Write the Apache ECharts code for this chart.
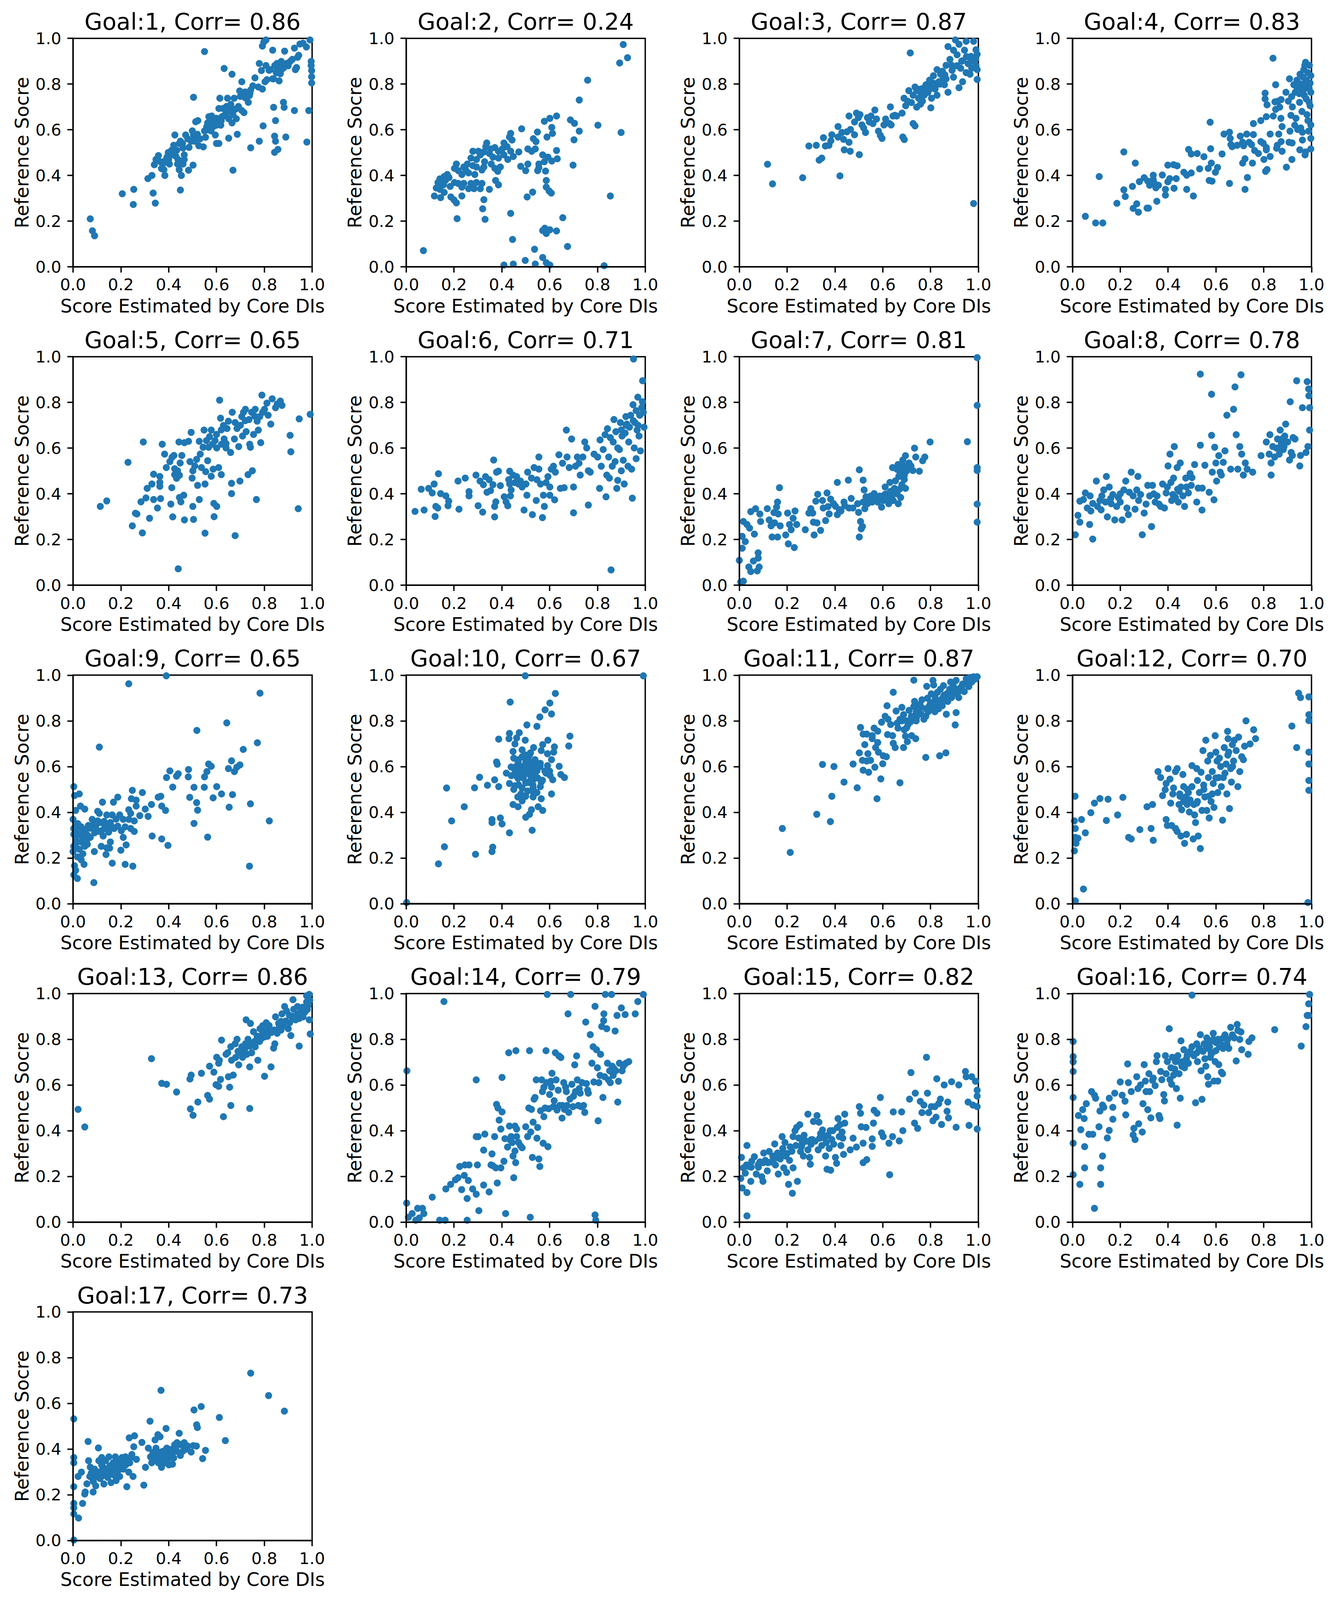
<!DOCTYPE html>
<html><head><meta charset="utf-8">
<script src="https://cdn.jsdelivr.net/npm/echarts@6/dist/echarts.min.js"></script>
<style>html,body{margin:0;padding:0;background:#fff;overflow:hidden}#c{width:100vw;height:100vh}</style>
</head><body><div id="c"></div>
<script>
const goals = [1,2,3,4,5,6,7,8,9,10,11,12,13,14,15,16,17];
const corrs = ['0.86','0.24','0.87','0.83','0.65','0.71','0.81','0.78','0.65','0.67','0.87','0.70','0.86','0.79','0.82','0.74','0.73'];
const xName = 'Score Estimated by Core DIs';
const yName = 'Reference Socre';

const g1 = [[0.072,0.21],[0.081,0.158],[0.09,0.136],[0.206,0.32],[0.254,0.339],[0.252,0.273],[0.335,0.323],[0.344,0.279],[0.313,0.386],[0.33,0.40],[0.449,0.336],[0.669,0.423],[0.502,0.445],[0.483,0.423],[0.34,0.447],[0.347,0.47],[0.357,0.487],[0.366,0.46],[0.375,0.45],[0.38,0.425],[0.384,0.40],[0.393,0.48],[0.398,0.50],[0.403,0.45],[0.39,0.47],[0.37,0.43],[0.412,0.51],[0.421,0.532],[0.426,0.577],[0.43,0.484],[0.439,0.47],[0.434,0.51],[0.444,0.54],[0.449,0.55],[0.458,0.54],[0.437,0.45],[0.444,0.425],[0.453,0.40],[0.465,0.49],[0.465,0.47],[0.46,0.45],[0.471,0.577],[0.485,0.523],[0.494,0.55],[0.499,0.595],[0.504,0.577],[0.508,0.55],[0.504,0.742],[0.513,0.635],[0.522,0.64],[0.526,0.53],[0.517,0.56],[0.531,0.56],[0.545,0.525],[0.55,0.595],[0.55,0.942],[0.554,0.567],[0.559,0.613],[0.563,0.63],[0.568,0.657],[0.572,0.62],[0.577,0.595],[0.582,0.648],[0.586,0.613],[0.591,0.63],[0.595,0.577],[0.6,0.54],[0.61,0.54],[0.605,0.63],[0.61,0.693],[0.614,0.738],[0.618,0.62],[0.623,0.657],[0.627,0.693],[0.632,0.868],[0.637,0.666],[0.642,0.702],[0.646,0.738],[0.651,0.648],[0.651,0.563],[0.655,0.684],[0.66,0.711],[0.665,0.63],[0.665,0.843],[0.669,0.666],[0.674,0.738],[0.683,0.648],[0.687,0.58],[0.692,0.702],[0.697,0.77],[0.7,0.746],[0.706,0.81],[0.706,0.684],[0.715,0.675],[0.72,0.765],[0.724,0.738],[0.733,0.72],[0.738,0.75],[0.743,0.774],[0.743,0.521],[0.752,0.792],[0.761,0.827],[0.775,0.787],[0.779,0.89],[0.779,0.55],[0.788,0.859],[0.792,0.778],[0.795,0.617],[0.792,0.966],[0.798,0.984],[0.807,0.993],[0.803,0.81],[0.807,0.881],[0.811,0.819],[0.825,0.863],[0.835,0.948],[0.839,0.698],[0.839,0.823],[0.843,0.501],[0.843,0.572],[0.847,0.64],[0.847,0.55],[0.853,0.89],[0.855,0.863],[0.857,0.514],[0.862,0.814],[0.867,0.845],[0.871,0.899],[0.875,0.872],[0.88,0.72],[0.883,0.698],[0.885,0.944],[0.89,0.568],[0.894,0.89],[0.908,0.899],[0.917,0.908],[0.926,0.957],[0.926,0.684],[0.93,0.863],[0.935,0.872],[0.939,0.917],[0.944,0.926],[0.949,0.975],[0.962,0.979],[0.976,0.962],[0.978,0.546],[0.986,0.684],[0.991,0.993],[0.996,0.899],[0.998,0.859],[0.998,0.832],[0.998,0.805],[0.996,0.881],[0.844,0.881],[0.857,0.872],[0.835,0.823],[0.82,0.86],[0.86,0.85],[0.87,0.86],[0.58,0.66],[0.6,0.65],[0.64,0.69],[0.66,0.7],[0.62,0.64],[0.38,0.46],[0.4,0.47],[0.42,0.49],[0.46,0.52],[0.48,0.56],[0.52,0.58],[0.56,0.6],[0.6,0.62],[0.63,0.66],[0.65,0.68],[0.68,0.69],[0.72,0.74],[0.74,0.76],[0.85,0.85],[0.88,0.87],[0.9,0.88]];

const g2 = [[0.908,0.973],[0.926,0.915],[0.893,0.892],[0.759,0.817],[0.724,0.73],[0.629,0.66],[0.601,0.65],[0.578,0.637],[0.687,0.643],[0.704,0.628],[0.802,0.62],[0.724,0.594],[0.899,0.588],[0.702,0.556],[0.483,0.604],[0.437,0.584],[0.549,0.59],[0.609,0.61],[0.612,0.584],[0.589,0.568],[0.532,0.561],[0.543,0.548],[0.443,0.555],[0.432,0.568],[0.409,0.542],[0.422,0.526],[0.437,0.506],[0.402,0.516],[0.386,0.506],[0.371,0.522],[0.353,0.516],[0.337,0.542],[0.333,0.526],[0.348,0.496],[0.325,0.503],[0.31,0.49],[0.302,0.506],[0.279,0.506],[0.271,0.476],[0.294,0.47],[0.328,0.46],[0.363,0.48],[0.386,0.476],[0.409,0.49],[0.425,0.47],[0.448,0.483],[0.471,0.503],[0.509,0.516],[0.525,0.506],[0.54,0.516],[0.571,0.49],[0.593,0.48],[0.609,0.463],[0.629,0.509],[0.632,0.473],[0.578,0.46],[0.555,0.45],[0.509,0.45],[0.479,0.44],[0.5,0.421],[0.555,0.434],[0.583,0.419],[0.55,0.421],[0.698,0.445],[0.256,0.45],[0.241,0.437],[0.279,0.443],[0.294,0.437],[0.21,0.45],[0.202,0.431],[0.218,0.421],[0.233,0.404],[0.249,0.424],[0.261,0.411],[0.287,0.404],[0.317,0.424],[0.325,0.437],[0.356,0.45],[0.371,0.431],[0.383,0.418],[0.394,0.437],[0.172,0.404],[0.159,0.395],[0.179,0.391],[0.141,0.385],[0.133,0.369],[0.149,0.365],[0.164,0.378],[0.202,0.369],[0.218,0.365],[0.241,0.365],[0.233,0.349],[0.271,0.365],[0.294,0.369],[0.317,0.365],[0.31,0.342],[0.284,0.342],[0.261,0.342],[0.348,0.339],[0.374,0.378],[0.386,0.359],[0.126,0.345],[0.141,0.339],[0.156,0.359],[0.184,0.352],[0.159,0.326],[0.118,0.31],[0.144,0.303],[0.187,0.306],[0.2,0.293],[0.21,0.28],[0.233,0.31],[0.325,0.294],[0.32,0.254],[0.33,0.208],[0.213,0.211],[0.437,0.234],[0.506,0.306],[0.529,0.327],[0.586,0.378],[0.586,0.349],[0.598,0.332],[0.607,0.323],[0.655,0.215],[0.854,0.31],[0.445,0.12],[0.571,0.159],[0.586,0.146],[0.601,0.162],[0.629,0.157],[0.58,0.169],[0.675,0.089],[0.537,0.077],[0.571,0.041],[0.498,0.028],[0.54,0.012],[0.586,0.018],[0.601,0.008],[0.409,0.008],[0.448,0.012],[0.828,0.005],[0.072,0.071]];

const g3 = [[0.118,0.449],[0.139,0.363],[0.265,0.39],[0.421,0.398],[0.502,0.491],[0.334,0.467],[0.345,0.476],[0.291,0.529],[0.322,0.532],[0.352,0.565],[0.36,0.529],[0.375,0.532],[0.383,0.552],[0.387,0.578],[0.413,0.568],[0.413,0.614],[0.429,0.588],[0.436,0.558],[0.439,0.512],[0.464,0.506],[0.459,0.545],[0.465,0.601],[0.45,0.591],[0.459,0.66],[0.482,0.634],[0.482,0.578],[0.49,0.673],[0.498,0.653],[0.505,0.666],[0.513,0.621],[0.52,0.608],[0.528,0.588],[0.536,0.653],[0.544,0.634],[0.551,0.66],[0.559,0.627],[0.567,0.686],[0.574,0.647],[0.582,0.594],[0.59,0.575],[0.597,0.562],[0.605,0.621],[0.612,0.647],[0.628,0.627],[0.635,0.621],[0.632,0.7],[0.643,0.66],[0.651,0.663],[0.658,0.66],[0.681,0.673],[0.684,0.568],[0.69,0.557],[0.689,0.738],[0.696,0.705],[0.704,0.725],[0.709,0.771],[0.715,0.936],[0.72,0.719],[0.727,0.627],[0.735,0.617],[0.727,0.751],[0.735,0.787],[0.742,0.699],[0.75,0.738],[0.758,0.778],[0.766,0.725],[0.773,0.751],[0.781,0.797],[0.789,0.764],[0.796,0.817],[0.801,0.696],[0.804,0.738],[0.812,0.836],[0.819,0.778],[0.827,0.863],[0.835,0.81],[0.842,0.843],[0.85,0.817],[0.858,0.797],[0.865,0.823],[0.873,0.764],[0.873,0.964],[0.881,0.908],[0.888,0.882],[0.896,0.948],[0.896,0.83],[0.904,0.993],[0.911,0.928],[0.919,0.784],[0.919,0.974],[0.926,0.869],[0.934,0.902],[0.934,0.81],[0.942,0.948],[0.949,0.85],[0.957,0.889],[0.965,0.843],[0.969,0.921],[0.972,0.869],[0.98,0.277],[0.988,0.908],[0.995,0.863],[0.98,0.987],[0.949,0.987],[0.773,0.784],[0.812,0.804],[0.742,0.771],[0.758,0.712],[0.827,0.751],[0.85,0.856],[0.865,0.882],[0.78,0.76],[0.76,0.75],[0.79,0.79],[0.84,0.8],[0.995,0.93],[0.99,0.95],[0.995,0.82],[0.76,0.77],[0.8,0.78],[0.83,0.8],[0.86,0.84],[0.89,0.86],[0.91,0.88],[0.93,0.9],[0.95,0.92],[0.97,0.9],[0.99,0.88]];

const g4 = [[0.054,0.221],[0.097,0.192],[0.127,0.192],[0.112,0.395],[0.186,0.278],[0.215,0.503],[0.215,0.337],[0.221,0.308],[0.251,0.352],[0.263,0.454],[0.254,0.256],[0.269,0.276],[0.276,0.239],[0.28,0.373],[0.3,0.39],[0.312,0.257],[0.318,0.257],[0.315,0.375],[0.323,0.357],[0.338,0.401],[0.338,0.382],[0.343,0.365],[0.349,0.346],[0.353,0.287],[0.36,0.357],[0.376,0.402],[0.389,0.339],[0.389,0.314],[0.399,0.445],[0.399,0.372],[0.407,0.386],[0.423,0.447],[0.425,0.344],[0.434,0.386],[0.438,0.442],[0.466,0.414],[0.478,0.401],[0.478,0.339],[0.486,0.514],[0.497,0.494],[0.497,0.411],[0.506,0.31],[0.522,0.496],[0.532,0.429],[0.55,0.482],[0.568,0.431],[0.572,0.378],[0.584,0.375],[0.578,0.517],[0.576,0.633],[0.581,0.454],[0.598,0.414],[0.607,0.435],[0.626,0.494],[0.634,0.581],[0.657,0.589],[0.657,0.365],[0.66,0.562],[0.663,0.535],[0.668,0.526],[0.689,0.532],[0.702,0.572],[0.712,0.545],[0.716,0.53],[0.712,0.454],[0.722,0.473],[0.722,0.339],[0.729,0.581],[0.732,0.391],[0.739,0.545],[0.749,0.535],[0.753,0.454],[0.757,0.627],[0.757,0.579],[0.762,0.509],[0.778,0.496],[0.788,0.64],[0.788,0.548],[0.798,0.541],[0.801,0.47],[0.806,0.76],[0.806,0.735],[0.811,0.657],[0.808,0.418],[0.814,0.426],[0.811,0.522],[0.811,0.512],[0.814,0.709],[0.827,0.581],[0.827,0.483],[0.839,0.913],[0.84,0.66],[0.847,0.722],[0.85,0.797],[0.85,0.689],[0.854,0.519],[0.857,0.532],[0.86,0.725],[0.863,0.581],[0.867,0.699],[0.872,0.65],[0.873,0.732],[0.877,0.614],[0.877,0.506],[0.873,0.548],[0.893,0.764],[0.895,0.436],[0.903,0.725],[0.906,0.545],[0.908,0.823],[0.91,0.594],[0.914,0.663],[0.917,0.745],[0.918,0.47],[0.919,0.542],[0.926,0.797],[0.932,0.764],[0.935,0.65],[0.939,0.817],[0.942,0.601],[0.945,0.784],[0.949,0.758],[0.951,0.512],[0.952,0.843],[0.955,0.608],[0.959,0.797],[0.962,0.589],[0.962,0.555],[0.965,0.83],[0.968,0.863],[0.972,0.882],[0.973,0.49],[0.975,0.895],[0.975,0.503],[0.978,0.735],[0.978,0.817],[0.981,0.79],[0.981,0.666],[0.985,0.64],[0.985,0.85],[0.988,0.594],[0.991,0.882],[0.994,0.705],[0.997,0.562],[0.997,0.516],[0.997,0.764],[0.997,0.621],[0.997,0.837],[0.994,0.804],[0.94,0.78],[0.955,0.8],[0.965,0.77],[0.92,0.7],[0.95,0.72],[0.97,0.75],[0.99,0.78],[0.96,0.68],[0.93,0.62],[0.99,0.72]];

const g5 = [[0.114,0.345],[0.141,0.369],[0.23,0.538],[0.294,0.627],[0.248,0.26],[0.29,0.229],[0.261,0.315],[0.267,0.312],[0.284,0.365],[0.305,0.382],[0.31,0.424],[0.32,0.293],[0.33,0.443],[0.337,0.486],[0.337,0.375],[0.353,0.338],[0.363,0.476],[0.363,0.45],[0.366,0.379],[0.363,0.433],[0.373,0.617],[0.383,0.574],[0.39,0.515],[0.405,0.541],[0.409,0.355],[0.413,0.427],[0.417,0.299],[0.414,0.56],[0.422,0.568],[0.425,0.51],[0.425,0.484],[0.433,0.468],[0.437,0.501],[0.443,0.627],[0.445,0.384],[0.445,0.481],[0.448,0.535],[0.455,0.568],[0.451,0.365],[0.463,0.394],[0.466,0.624],[0.466,0.286],[0.483,0.63],[0.489,0.541],[0.494,0.669],[0.498,0.469],[0.501,0.345],[0.501,0.501],[0.504,0.288],[0.509,0.522],[0.517,0.551],[0.521,0.437],[0.528,0.375],[0.528,0.63],[0.532,0.574],[0.537,0.515],[0.544,0.604],[0.548,0.679],[0.552,0.443],[0.552,0.228],[0.555,0.497],[0.558,0.633],[0.563,0.545],[0.567,0.604],[0.571,0.65],[0.578,0.477],[0.578,0.679],[0.583,0.617],[0.586,0.508],[0.589,0.358],[0.59,0.3],[0.594,0.633],[0.601,0.345],[0.601,0.601],[0.609,0.515],[0.613,0.81],[0.617,0.731],[0.62,0.484],[0.621,0.617],[0.629,0.699],[0.632,0.64],[0.64,0.601],[0.644,0.686],[0.65,0.718],[0.659,0.581],[0.663,0.401],[0.663,0.446],[0.666,0.757],[0.675,0.64],[0.678,0.712],[0.678,0.217],[0.686,0.686],[0.693,0.607],[0.698,0.456],[0.706,0.738],[0.709,0.653],[0.713,0.757],[0.721,0.77],[0.724,0.672],[0.732,0.484],[0.736,0.725],[0.739,0.617],[0.742,0.604],[0.747,0.757],[0.75,0.501],[0.755,0.66],[0.762,0.77],[0.767,0.375],[0.77,0.718],[0.775,0.679],[0.781,0.738],[0.785,0.624],[0.79,0.832],[0.793,0.757],[0.801,0.77],[0.811,0.797],[0.816,0.744],[0.827,0.705],[0.833,0.816],[0.847,0.777],[0.854,0.793],[0.867,0.806],[0.874,0.787],[0.908,0.656],[0.911,0.584],[0.942,0.335],[0.946,0.728],[0.992,0.748],[0.44,0.072],[0.6,0.66],[0.62,0.68],[0.7,0.7],[0.72,0.72],[0.76,0.74],[0.64,0.62]];

const g6 = [[0.037,0.323],[0.075,0.329],[0.063,0.42],[0.094,0.424],[0.109,0.404],[0.117,0.443],[0.121,0.301],[0.124,0.345],[0.132,0.338],[0.135,0.488],[0.144,0.401],[0.166,0.391],[0.178,0.368],[0.175,0.348],[0.217,0.456],[0.221,0.333],[0.247,0.469],[0.263,0.41],[0.263,0.391],[0.292,0.482],[0.301,0.348],[0.309,0.456],[0.32,0.32],[0.323,0.44],[0.332,0.475],[0.338,0.407],[0.347,0.462],[0.353,0.414],[0.363,0.44],[0.366,0.548],[0.37,0.299],[0.37,0.345],[0.375,0.365],[0.378,0.495],[0.386,0.499],[0.394,0.436],[0.41,0.387],[0.418,0.365],[0.425,0.348],[0.429,0.462],[0.433,0.499],[0.433,0.443],[0.436,0.391],[0.439,0.417],[0.447,0.482],[0.455,0.449],[0.462,0.475],[0.47,0.443],[0.478,0.456],[0.485,0.43],[0.493,0.329],[0.501,0.443],[0.505,0.394],[0.508,0.495],[0.524,0.469],[0.528,0.309],[0.535,0.515],[0.544,0.371],[0.547,0.462],[0.555,0.561],[0.555,0.508],[0.562,0.443],[0.57,0.296],[0.574,0.394],[0.578,0.345],[0.585,0.449],[0.593,0.475],[0.601,0.43],[0.601,0.394],[0.607,0.508],[0.616,0.521],[0.621,0.374],[0.624,0.495],[0.639,0.571],[0.645,0.424],[0.654,0.534],[0.661,0.427],[0.67,0.679],[0.673,0.561],[0.682,0.515],[0.692,0.64],[0.7,0.43],[0.7,0.317],[0.708,0.521],[0.716,0.561],[0.723,0.534],[0.728,0.482],[0.739,0.561],[0.747,0.627],[0.755,0.601],[0.762,0.351],[0.762,0.501],[0.77,0.495],[0.786,0.574],[0.801,0.561],[0.809,0.424],[0.811,0.636],[0.816,0.521],[0.824,0.594],[0.832,0.659],[0.836,0.387],[0.839,0.482],[0.842,0.685],[0.847,0.561],[0.85,0.469],[0.854,0.646],[0.857,0.067],[0.862,0.521],[0.866,0.627],[0.869,0.725],[0.874,0.541],[0.877,0.672],[0.881,0.424],[0.885,0.459],[0.885,0.601],[0.892,0.594],[0.896,0.712],[0.9,0.501],[0.903,0.653],[0.908,0.547],[0.912,0.443],[0.916,0.666],[0.919,0.738],[0.923,0.705],[0.928,0.521],[0.931,0.627],[0.934,0.692],[0.939,0.744],[0.943,0.508],[0.946,0.381],[0.949,0.79],[0.954,0.601],[0.957,0.712],[0.962,0.764],[0.962,0.554],[0.966,0.679],[0.969,0.823],[0.974,0.653],[0.977,0.744],[0.98,0.588],[0.985,0.777],[0.988,0.803],[0.989,0.895],[0.951,0.99],[0.992,0.757],[0.995,0.692],[0.9,0.68],[0.92,0.7],[0.95,0.72],[0.97,0.7]];

const g7 = [[0.006,0.014],[0.017,0.018],[0,0.109],[0.012,0.162],[0.025,0.191],[0.012,0.214],[0.017,0.279],[0.032,0.266],[0.043,0.25],[0.04,0.08],[0.048,0.06],[0.059,0.106],[0.075,0.063],[0.083,0.08],[0.079,0.142],[0.079,0.119],[0.063,0.224],[0.048,0.322],[0.068,0.335],[0.086,0.312],[0.089,0.279],[0.117,0.335],[0.125,0.286],[0.133,0.26],[0.137,0.211],[0.145,0.318],[0.148,0.273],[0.156,0.342],[0.16,0.364],[0.16,0.211],[0.163,0.312],[0.168,0.427],[0.171,0.26],[0.194,0.22],[0.202,0.316],[0.205,0.181],[0.21,0.266],[0.217,0.243],[0.225,0.293],[0.23,0.165],[0.233,0.325],[0.24,0.266],[0.276,0.243],[0.291,0.316],[0.299,0.335],[0.307,0.316],[0.313,0.22],[0.31,0.276],[0.32,0.368],[0.325,0.273],[0.328,0.398],[0.34,0.24],[0.348,0.371],[0.351,0.338],[0.361,0.283],[0.367,0.404],[0.371,0.344],[0.376,0.312],[0.382,0.377],[0.394,0.357],[0.402,0.346],[0.41,0.45],[0.41,0.309],[0.418,0.331],[0.425,0.325],[0.438,0.364],[0.441,0.348],[0.456,0.46],[0.459,0.338],[0.468,0.38],[0.475,0.338],[0.495,0.357],[0.499,0.319],[0.502,0.505],[0.502,0.211],[0.507,0.279],[0.51,0.247],[0.515,0.257],[0.518,0.46],[0.518,0.364],[0.522,0.417],[0.525,0.335],[0.53,0.387],[0.536,0.357],[0.541,0.371],[0.549,0.39],[0.556,0.364],[0.564,0.401],[0.571,0.38],[0.579,0.364],[0.587,0.39],[0.595,0.342],[0.602,0.371],[0.61,0.43],[0.61,0.398],[0.618,0.38],[0.625,0.357],[0.63,0.45],[0.633,0.411],[0.638,0.391],[0.641,0.515],[0.644,0.371],[0.649,0.424],[0.653,0.457],[0.656,0.404],[0.659,0.508],[0.664,0.528],[0.665,0.357],[0.667,0.476],[0.672,0.489],[0.675,0.384],[0.68,0.502],[0.684,0.548],[0.687,0.522],[0.69,0.463],[0.695,0.567],[0.695,0.424],[0.703,0.508],[0.71,0.535],[0.718,0.522],[0.726,0.502],[0.733,0.6],[0.738,0.561],[0.753,0.499],[0.767,0.545],[0.776,0.561],[0.798,0.627],[0.954,0.628],[0.995,0.787],[0.995,0.515],[0.995,0.502],[0.995,0.355],[0.995,0.276],[0.995,0.996],[0.66,0.4],[0.67,0.42],[0.68,0.44],[0.69,0.48],[0.7,0.5],[0.62,0.4],[0.6,0.39]];

const g8 = [[0.012,0.221],[0.085,0.202],[0.023,0.306],[0.031,0.276],[0.072,0.266],[0.031,0.368],[0.046,0.375],[0.054,0.404],[0.062,0.338],[0.074,0.391],[0.077,0.325],[0.085,0.358],[0.1,0.456],[0.105,0.345],[0.115,0.371],[0.123,0.391],[0.131,0.417],[0.138,0.364],[0.142,0.476],[0.146,0.299],[0.154,0.43],[0.162,0.357],[0.169,0.397],[0.177,0.286],[0.185,0.345],[0.192,0.384],[0.2,0.364],[0.208,0.286],[0.215,0.417],[0.223,0.456],[0.228,0.338],[0.234,0.309],[0.238,0.407],[0.246,0.495],[0.254,0.391],[0.262,0.333],[0.269,0.417],[0.274,0.476],[0.277,0.371],[0.285,0.397],[0.292,0.221],[0.3,0.316],[0.308,0.355],[0.315,0.437],[0.323,0.391],[0.331,0.257],[0.335,0.437],[0.346,0.364],[0.354,0.391],[0.362,0.355],[0.369,0.345],[0.377,0.443],[0.385,0.338],[0.392,0.404],[0.397,0.43],[0.4,0.522],[0.408,0.574],[0.412,0.45],[0.415,0.371],[0.42,0.397],[0.423,0.469],[0.426,0.607],[0.431,0.384],[0.438,0.515],[0.443,0.364],[0.446,0.411],[0.451,0.535],[0.454,0.43],[0.462,0.391],[0.469,0.345],[0.474,0.469],[0.477,0.43],[0.485,0.404],[0.492,0.489],[0.497,0.437],[0.5,0.471],[0.511,0.528],[0.52,0.364],[0.526,0.425],[0.535,0.613],[0.535,0.924],[0.542,0.329],[0.543,0.425],[0.554,0.525],[0.572,0.407],[0.582,0.836],[0.582,0.656],[0.585,0.495],[0.592,0.374],[0.595,0.604],[0.6,0.535],[0.603,0.456],[0.612,0.567],[0.618,0.495],[0.623,0.482],[0.631,0.538],[0.638,0.588],[0.646,0.744],[0.662,0.508],[0.674,0.77],[0.68,0.868],[0.685,0.659],[0.692,0.508],[0.7,0.607],[0.705,0.921],[0.708,0.574],[0.715,0.482],[0.723,0.535],[0.731,0.508],[0.754,0.495],[0.789,0.567],[0.811,0.627],[0.823,0.574],[0.826,0.659],[0.831,0.482],[0.831,0.535],[0.838,0.607],[0.846,0.561],[0.854,0.6],[0.858,0.64],[0.865,0.574],[0.869,0.679],[0.874,0.62],[0.877,0.64],[0.882,0.594],[0.885,0.607],[0.888,0.653],[0.892,0.705],[0.9,0.627],[0.908,0.548],[0.911,0.803],[0.915,0.581],[0.92,0.568],[0.923,0.646],[0.931,0.64],[0.938,0.895],[0.951,0.522],[0.954,0.568],[0.962,0.777],[0.977,0.581],[0.982,0.891],[0.985,0.607],[0.988,0.859],[0.989,0.829],[0.992,0.777],[0.992,0.679],[0.16,0.38],[0.12,0.33],[0.2,0.4],[0.34,0.4],[0.44,0.42],[0.86,0.6]];

const g9 = [[0.39,0.997],[0.233,0.962],[0.782,0.921],[0.643,0.791],[0.518,0.758],[0.11,0.685],[0.771,0.704],[0.712,0.675],[0.663,0.625],[0.567,0.611],[0.578,0.601],[0.698,0.607],[0.685,0.597],[0.65,0.591],[0.675,0.578],[0.405,0.581],[0.391,0.552],[0.44,0.568],[0.433,0.558],[0.483,0.587],[0.482,0.555],[0.56,0.578],[0.55,0.555],[0.417,0.51],[0.506,0.509],[0.549,0.509],[0.601,0.512],[0.621,0.48],[0.667,0.477],[0.586,0.463],[0.488,0.465],[0.517,0.442],[0.521,0.409],[0.653,0.422],[0.742,0.437],[0.821,0.362],[0.506,0.351],[0.563,0.291],[0.738,0.164],[0.371,0.283],[0.331,0.296],[0.397,0.255],[0.248,0.496],[0.29,0.486],[0.367,0.47],[0.356,0.466],[0.187,0.466],[0.244,0.459],[0.264,0.453],[0.328,0.434],[0.371,0.427],[0.387,0.408],[0.169,0.444],[0.123,0.444],[0.264,0.427],[0.302,0.414],[0.233,0.411],[0.241,0.395],[0.279,0.385],[0.314,0.382],[0.103,0.404],[0.11,0.395],[0.049,0.414],[0.026,0.48],[0.003,0.512],[0.006,0.473],[0.031,0.427],[0.011,0.408],[0.141,0.388],[0.164,0.388],[0.195,0.388],[0.21,0.369],[0.233,0.369],[0.256,0.362],[0.218,0.336],[0.202,0.319],[0.241,0.329],[0.256,0.316],[0.21,0.29],[0.187,0.339],[0.172,0.329],[0.156,0.355],[0.141,0.329],[0.133,0.342],[0.118,0.355],[0.103,0.362],[0.08,0.369],[0.08,0.342],[0.095,0.329],[0.11,0.316],[0.126,0.296],[0.149,0.313],[0.156,0.27],[0.141,0.244],[0.118,0.251],[0.153,0.243],[0.222,0.257],[0.2,0.234],[0.138,0.215],[0.089,0.228],[0.164,0.177],[0.218,0.172],[0.25,0.164],[0.087,0.092],[0.064,0.342],[0.049,0.323],[0.034,0.336],[0.018,0.349],[0.011,0.329],[0.026,0.31],[0.041,0.296],[0.003,0.303],[0.011,0.277],[0.034,0.27],[0.057,0.277],[0.072,0.29],[0.049,0.251],[0.026,0.238],[0.003,0.251],[0.041,0.218],[0.018,0.205],[0.034,0.192],[0.046,0.172],[0.006,0.166],[0.011,0.146],[0.003,0.126],[0.018,0.11],[0,0.369],[0.003,0.329],[0,0.228],[0.06,0.3],[0.09,0.31],[0.12,0.32],[0.02,0.3],[0.03,0.32],[0.05,0.31],[0.07,0.33],[0.04,0.28],[0.06,0.26],[0.01,0.26],[0.02,0.35],[0.1,0.35],[0.13,0.36],[0.16,0.34],[0.18,0.37]];

const g10 = [[0.002,0.005],[0.498,0.997],[0.992,0.997],[0.624,0.92],[0.435,0.882],[0.601,0.878],[0.581,0.848],[0.608,0.83],[0.559,0.817],[0.505,0.782],[0.547,0.776],[0.432,0.745],[0.473,0.748],[0.387,0.72],[0.43,0.722],[0.462,0.725],[0.498,0.715],[0.593,0.715],[0.685,0.733],[0.68,0.69],[0.617,0.663],[0.455,0.699],[0.571,0.696],[0.62,0.686],[0.447,0.666],[0.485,0.673],[0.533,0.683],[0.565,0.67],[0.591,0.656],[0.608,0.63],[0.516,0.65],[0.485,0.643],[0.45,0.637],[0.468,0.62],[0.514,0.624],[0.539,0.63],[0.378,0.62],[0.381,0.61],[0.561,0.614],[0.591,0.604],[0.64,0.601],[0.439,0.598],[0.5,0.591],[0.533,0.598],[0.455,0.584],[0.547,0.581],[0.479,0.575],[0.419,0.571],[0.585,0.571],[0.516,0.565],[0.602,0.561],[0.662,0.552],[0.647,0.565],[0.613,0.542],[0.307,0.553],[0.37,0.542],[0.468,0.548],[0.531,0.542],[0.565,0.532],[0.5,0.529],[0.432,0.526],[0.387,0.512],[0.286,0.507],[0.34,0.518],[0.169,0.506],[0.455,0.516],[0.485,0.506],[0.531,0.506],[0.561,0.512],[0.508,0.493],[0.547,0.486],[0.608,0.48],[0.467,0.467],[0.5,0.47],[0.531,0.467],[0.565,0.459],[0.485,0.45],[0.447,0.434],[0.468,0.424],[0.243,0.424],[0.524,0.411],[0.552,0.424],[0.571,0.408],[0.5,0.378],[0.516,0.391],[0.19,0.362],[0.359,0.368],[0.394,0.375],[0.359,0.355],[0.401,0.349],[0.527,0.321],[0.432,0.31],[0.16,0.249],[0.362,0.247],[0.359,0.228],[0.29,0.216],[0.135,0.174],[0.48,0.6],[0.52,0.61],[0.5,0.62],[0.46,0.56],[0.54,0.56],[0.52,0.54],[0.49,0.55],[0.51,0.58],[0.47,0.52],[0.53,0.58],[0.46,0.6],[0.48,0.58],[0.5,0.57],[0.52,0.6],[0.54,0.62],[0.56,0.6],[0.55,0.55],[0.53,0.52],[0.51,0.53],[0.49,0.6],[0.47,0.63],[0.5,0.65],[0.52,0.66],[0.44,0.56],[0.58,0.58],[0.57,0.54],[0.45,0.5],[0.48,0.48],[0.53,0.49],[0.6,0.58]];

const g11 = [[0.18,0.329],[0.213,0.224],[0.324,0.391],[0.381,0.359],[0.387,0.47],[0.348,0.609],[0.396,0.6],[0.438,0.532],[0.493,0.507],[0.576,0.459],[0.592,0.546],[0.672,0.529],[0.476,0.611],[0.515,0.627],[0.533,0.624],[0.549,0.627],[0.518,0.584],[0.541,0.575],[0.567,0.597],[0.6,0.612],[0.502,0.66],[0.525,0.696],[0.538,0.656],[0.57,0.683],[0.582,0.663],[0.602,0.647],[0.615,0.643],[0.507,0.771],[0.518,0.742],[0.533,0.742],[0.556,0.735],[0.556,0.722],[0.564,0.768],[0.579,0.755],[0.579,0.705],[0.595,0.794],[0.61,0.82],[0.618,0.866],[0.622,0.807],[0.633,0.784],[0.641,0.735],[0.644,0.702],[0.652,0.683],[0.644,0.925],[0.656,0.843],[0.664,0.768],[0.672,0.807],[0.68,0.859],[0.687,0.683],[0.687,0.827],[0.69,0.761],[0.695,0.733],[0.703,0.709],[0.706,0.784],[0.71,0.846],[0.718,0.797],[0.721,0.735],[0.726,0.82],[0.73,0.978],[0.733,0.885],[0.738,0.722],[0.741,0.813],[0.749,0.859],[0.756,0.833],[0.764,0.892],[0.772,0.807],[0.78,0.853],[0.78,0.64],[0.784,0.951],[0.787,0.899],[0.795,0.866],[0.803,0.918],[0.81,0.977],[0.813,0.957],[0.818,0.84],[0.823,0.892],[0.829,0.925],[0.834,0.853],[0.838,0.647],[0.841,0.938],[0.849,0.866],[0.854,0.954],[0.857,0.912],[0.864,0.66],[0.866,0.829],[0.872,0.885],[0.88,0.938],[0.884,0.97],[0.888,0.902],[0.895,0.954],[0.903,0.782],[0.907,0.836],[0.911,0.925],[0.907,0.977],[0.918,0.902],[0.921,0.941],[0.934,0.961],[0.941,0.928],[0.949,0.984],[0.957,0.958],[0.965,0.99],[0.972,0.97],[0.98,0.993],[0.988,0.984],[0.995,0.993],[0.73,0.863],[0.756,0.872],[0.7,0.8],[0.74,0.84],[0.76,0.86],[0.8,0.88],[0.82,0.9],[0.85,0.9],[0.87,0.92],[0.9,0.94],[0.93,0.95],[0.96,0.97],[0.79,0.84],[0.62,0.74],[0.66,0.79],[0.68,0.8],[0.7,0.77],[0.72,0.82],[0.74,0.8],[0.76,0.83],[0.78,0.82],[0.8,0.85],[0.82,0.87],[0.84,0.88],[0.86,0.89],[0.88,0.91],[0.9,0.92],[0.92,0.93],[0.94,0.96],[0.96,0.95],[0.98,0.98]];

const g12 = [[0.012,0.012],[0.046,0.064],[0.008,0.231],[0.015,0.264],[0.012,0.29],[0.023,0.286],[0.012,0.329],[0.008,0.362],[0.011,0.47],[0.038,0.368],[0.054,0.31],[0.077,0.398],[0.092,0.44],[0.115,0.46],[0.142,0.364],[0.149,0.457],[0.189,0.388],[0.211,0.465],[0.235,0.29],[0.246,0.283],[0.282,0.324],[0.312,0.424],[0.329,0.329],[0.335,0.434],[0.338,0.277],[0.358,0.578],[0.369,0.552],[0.377,0.473],[0.388,0.499],[0.392,0.526],[0.392,0.368],[0.397,0.342],[0.4,0.591],[0.408,0.545],[0.411,0.44],[0.415,0.342],[0.42,0.48],[0.423,0.506],[0.431,0.329],[0.431,0.578],[0.438,0.591],[0.438,0.316],[0.446,0.434],[0.449,0.48],[0.454,0.296],[0.457,0.411],[0.462,0.565],[0.465,0.512],[0.465,0.447],[0.469,0.264],[0.474,0.467],[0.477,0.303],[0.48,0.434],[0.485,0.486],[0.489,0.401],[0.492,0.454],[0.5,0.604],[0.5,0.512],[0.505,0.283],[0.508,0.434],[0.511,0.388],[0.515,0.355],[0.52,0.591],[0.523,0.539],[0.523,0.447],[0.526,0.296],[0.531,0.486],[0.535,0.241],[0.538,0.575],[0.542,0.408],[0.546,0.67],[0.549,0.519],[0.554,0.467],[0.558,0.715],[0.562,0.408],[0.566,0.624],[0.569,0.552],[0.572,0.375],[0.577,0.649],[0.58,0.447],[0.585,0.578],[0.585,0.48],[0.589,0.526],[0.592,0.421],[0.597,0.735],[0.6,0.663],[0.605,0.624],[0.608,0.486],[0.612,0.552],[0.615,0.637],[0.623,0.512],[0.628,0.365],[0.631,0.552],[0.635,0.683],[0.638,0.571],[0.643,0.611],[0.646,0.48],[0.649,0.754],[0.651,0.722],[0.654,0.663],[0.657,0.416],[0.662,0.591],[0.665,0.532],[0.669,0.696],[0.674,0.624],[0.677,0.715],[0.685,0.67],[0.692,0.512],[0.695,0.729],[0.7,0.578],[0.708,0.643],[0.715,0.63],[0.72,0.689],[0.726,0.8],[0.743,0.699],[0.758,0.761],[0.766,0.722],[0.918,0.777],[0.938,0.683],[0.946,0.921],[0.954,0.902],[0.989,0.905],[0.989,0.827],[0.989,0.801],[0.989,0.663],[0.989,0.611],[0.989,0.539],[0.989,0.496],[0.985,0.005],[0.55,0.5],[0.6,0.55],[0.62,0.6],[0.57,0.47],[0.52,0.44],[0.48,0.5],[0.45,0.47],[0.65,0.65],[0.67,0.6]];

const g13 = [[0.021,0.493],[0.049,0.416],[0.328,0.715],[0.371,0.607],[0.391,0.603],[0.433,0.569],[0.489,0.626],[0.494,0.643],[0.537,0.651],[0.491,0.495],[0.502,0.467],[0.522,0.525],[0.563,0.554],[0.571,0.538],[0.629,0.461],[0.66,0.51],[0.739,0.497],[0.589,0.656],[0.571,0.682],[0.598,0.601],[0.609,0.594],[0.617,0.624],[0.65,0.636],[0.655,0.59],[0.67,0.643],[0.601,0.721],[0.609,0.695],[0.621,0.796],[0.612,0.708],[0.64,0.734],[0.647,0.741],[0.663,0.708],[0.66,0.767],[0.678,0.78],[0.686,0.8],[0.69,0.747],[0.693,0.688],[0.706,0.767],[0.709,0.721],[0.716,0.754],[0.721,0.78],[0.724,0.885],[0.727,0.734],[0.732,0.8],[0.739,0.679],[0.742,0.869],[0.747,0.741],[0.755,0.833],[0.759,0.79],[0.762,0.767],[0.77,0.813],[0.773,0.708],[0.782,0.846],[0.785,0.8],[0.793,0.859],[0.801,0.833],[0.801,0.638],[0.808,0.872],[0.813,0.813],[0.819,0.846],[0.828,0.679],[0.831,0.833],[0.839,0.761],[0.844,0.78],[0.847,0.898],[0.854,0.826],[0.862,0.852],[0.87,0.878],[0.874,0.911],[0.885,0.943],[0.893,0.924],[0.9,0.846],[0.905,0.905],[0.906,0.872],[0.911,0.816],[0.916,0.898],[0.92,0.973],[0.923,0.931],[0.931,0.885],[0.939,0.943],[0.946,0.77],[0.946,0.891],[0.954,0.924],[0.962,0.898],[0.969,0.918],[0.977,0.963],[0.977,0.99],[0.985,0.95],[0.988,0.885],[0.992,0.823],[0.988,0.996],[0.75,0.78],[0.79,0.82],[0.82,0.86],[0.86,0.87],[0.88,0.86],[0.72,0.76],[0.68,0.72],[0.84,0.84],[0.7,0.74],[0.74,0.77],[0.78,0.79],[0.8,0.81],[0.83,0.83],[0.87,0.84],[0.89,0.88],[0.92,0.9],[0.94,0.91],[0.96,0.94],[0.98,0.93],[0.99,0.97]];

const g14 = [[0.003,0.662],[0.002,0.083],[0.009,0.021],[0.025,0.037],[0.048,0.06],[0.068,0.06],[0.074,0.037],[0.055,0.018],[0.04,0.008],[0.14,0.008],[0.163,0.008],[0.255,0.008],[0.109,0.109],[0.158,0.965],[0.166,0.145],[0.186,0.165],[0.206,0.185],[0.217,0.194],[0.224,0.243],[0.232,0.142],[0.243,0.204],[0.246,0.25],[0.255,0.103],[0.26,0.182],[0.263,0.25],[0.278,0.145],[0.293,0.122],[0.298,0.25],[0.293,0.374],[0.293,0.622],[0.301,0.374],[0.304,0.05],[0.324,0.315],[0.324,0.162],[0.329,0.385],[0.347,0.132],[0.355,0.25],[0.359,0.298],[0.362,0.247],[0.37,0.374],[0.375,0.237],[0.378,0.515],[0.381,0.171],[0.384,0.499],[0.389,0.446],[0.396,0.237],[0.396,0.407],[0.401,0.633],[0.401,0.482],[0.409,0.266],[0.413,0.365],[0.416,0.037],[0.424,0.328],[0.429,0.741],[0.432,0.42],[0.436,0.358],[0.439,0.374],[0.444,0.348],[0.447,0.289],[0.45,0.194],[0.455,0.42],[0.455,0.311],[0.458,0.26],[0.459,0.75],[0.462,0.407],[0.462,0.374],[0.47,0.348],[0.478,0.334],[0.485,0.325],[0.5,0.417],[0.508,0.374],[0.513,0.499],[0.516,0.75],[0.519,0.021],[0.521,0.394],[0.524,0.493],[0.528,0.283],[0.531,0.437],[0.535,0.538],[0.539,0.545],[0.544,0.622],[0.547,0.367],[0.55,0.414],[0.555,0.276],[0.559,0.243],[0.562,0.487],[0.567,0.622],[0.57,0.571],[0.573,0.345],[0.576,0.59],[0.576,0.461],[0.581,0.499],[0.585,0.75],[0.588,0.61],[0.59,0.996],[0.593,0.33],[0.596,0.496],[0.6,0.558],[0.605,0.616],[0.608,0.59],[0.61,0.651],[0.616,0.505],[0.619,0.531],[0.624,0.741],[0.627,0.622],[0.631,0.49],[0.636,0.577],[0.639,0.727],[0.642,0.51],[0.647,0.72],[0.652,0.455],[0.654,0.51],[0.659,0.61],[0.662,0.493],[0.667,0.59],[0.67,0.571],[0.673,0.51],[0.677,0.911],[0.68,0.48],[0.685,0.538],[0.688,0.996],[0.693,0.603],[0.698,0.505],[0.7,0.551],[0.705,0.688],[0.708,0.571],[0.713,0.727],[0.716,0.622],[0.72,0.51],[0.724,0.584],[0.728,0.564],[0.731,0.505],[0.736,0.61],[0.742,0.51],[0.747,0.48],[0.751,0.875],[0.754,0.606],[0.759,0.577],[0.762,0.564],[0.77,0.82],[0.777,0.695],[0.782,0.767],[0.785,0.613],[0.79,0.944],[0.79,0.031],[0.793,0.008],[0.796,0.754],[0.8,0.675],[0.803,0.443],[0.806,0.61],[0.811,0.642],[0.813,0.734],[0.818,0.856],[0.823,0.545],[0.826,0.881],[0.827,0.911],[0.83,0.636],[0.833,0.996],[0.839,0.846],[0.842,0.695],[0.846,0.622],[0.851,0.662],[0.854,0.61],[0.859,0.996],[0.862,0.682],[0.866,0.642],[0.869,0.672],[0.874,0.836],[0.877,0.662],[0.882,0.904],[0.885,0.525],[0.888,0.616],[0.892,0.695],[0.9,0.937],[0.903,0.662],[0.908,0.682],[0.916,0.908],[0.919,0.695],[0.931,0.702],[0.958,0.911],[0.969,0.965],[0.992,0.996]];

const g15 = [[0.032,0.027],[0.006,0.191],[0.012,0.149],[0.032,0.129],[0.009,0.283],[0.017,0.237],[0.025,0.214],[0.032,0.335],[0.04,0.243],[0.048,0.178],[0.052,0.266],[0.063,0.286],[0.071,0.21],[0.079,0.25],[0.086,0.263],[0.094,0.198],[0.099,0.178],[0.102,0.302],[0.109,0.27],[0.117,0.224],[0.125,0.309],[0.133,0.263],[0.14,0.289],[0.148,0.342],[0.151,0.25],[0.16,0.302],[0.163,0.21],[0.171,0.276],[0.179,0.374],[0.182,0.322],[0.186,0.237],[0.191,0.348],[0.194,0.289],[0.198,0.217],[0.206,0.165],[0.21,0.27],[0.213,0.329],[0.222,0.126],[0.225,0.374],[0.225,0.237],[0.233,0.4],[0.237,0.335],[0.24,0.414],[0.243,0.178],[0.248,0.368],[0.253,0.426],[0.256,0.309],[0.263,0.342],[0.268,0.289],[0.271,0.38],[0.279,0.354],[0.287,0.472],[0.287,0.316],[0.294,0.283],[0.297,0.253],[0.305,0.361],[0.31,0.44],[0.317,0.354],[0.325,0.466],[0.33,0.316],[0.333,0.437],[0.336,0.367],[0.34,0.387],[0.345,0.335],[0.348,0.403],[0.356,0.367],[0.361,0.289],[0.364,0.348],[0.367,0.231],[0.371,0.38],[0.376,0.322],[0.382,0.227],[0.387,0.361],[0.391,0.4],[0.395,0.341],[0.402,0.283],[0.407,0.257],[0.41,0.414],[0.413,0.453],[0.418,0.374],[0.422,0.427],[0.425,0.335],[0.43,0.394],[0.433,0.367],[0.436,0.296],[0.441,0.472],[0.441,0.433],[0.464,0.316],[0.476,0.367],[0.49,0.328],[0.502,0.505],[0.507,0.476],[0.51,0.417],[0.518,0.345],[0.518,0.26],[0.53,0.414],[0.533,0.273],[0.556,0.364],[0.556,0.331],[0.561,0.433],[0.564,0.489],[0.576,0.476],[0.59,0.545],[0.595,0.39],[0.602,0.374],[0.626,0.345],[0.629,0.207],[0.641,0.374],[0.644,0.482],[0.669,0.355],[0.679,0.482],[0.684,0.4],[0.712,0.538],[0.718,0.654],[0.733,0.433],[0.736,0.564],[0.746,0.41],[0.757,0.528],[0.764,0.479],[0.772,0.512],[0.783,0.721],[0.787,0.564],[0.792,0.479],[0.803,0.505],[0.81,0.443],[0.818,0.505],[0.823,0.459],[0.826,0.627],[0.834,0.518],[0.841,0.538],[0.846,0.427],[0.857,0.6],[0.869,0.485],[0.872,0.525],[0.875,0.456],[0.888,0.614],[0.907,0.415],[0.918,0.6],[0.946,0.659],[0.949,0.636],[0.957,0.525],[0.961,0.423],[0.972,0.636],[0.977,0.512],[0.988,0.616],[0.995,0.577],[0.995,0.551],[0.995,0.505],[0.995,0.407],[0.05,0.24],[0.1,0.26],[0.2,0.3],[0.3,0.34],[0.26,0.36],[0.35,0.38],[0.08,0.24],[0.12,0.26],[0.15,0.28],[0.18,0.3],[0.22,0.31],[0.26,0.33],[0.3,0.36],[0.34,0.37],[0.38,0.4],[0.03,0.25]];

const g16 = [[0.003,0.79],[0.003,0.724],[0.003,0.701],[0.003,0.659],[0.003,0.545],[0.003,0.345],[0.003,0.207],[0.031,0.165],[0.092,0.06],[0.118,0.237],[0.118,0.165],[0.126,0.289],[0.051,0.237],[0.051,0.33],[0.035,0.404],[0.025,0.466],[0.043,0.492],[0.049,0.453],[0.058,0.518],[0.069,0.384],[0.085,0.384],[0.08,0.571],[0.092,0.555],[0.097,0.542],[0.111,0.417],[0.115,0.486],[0.126,0.512],[0.131,0.502],[0.146,0.368],[0.154,0.401],[0.154,0.542],[0.169,0.45],[0.169,0.502],[0.177,0.564],[0.2,0.613],[0.208,0.555],[0.22,0.529],[0.223,0.469],[0.231,0.692],[0.234,0.61],[0.246,0.571],[0.254,0.381],[0.257,0.41],[0.262,0.361],[0.269,0.636],[0.274,0.584],[0.277,0.43],[0.285,0.6],[0.292,0.394],[0.295,0.518],[0.3,0.689],[0.305,0.617],[0.308,0.571],[0.315,0.492],[0.32,0.649],[0.323,0.571],[0.328,0.456],[0.335,0.62],[0.338,0.63],[0.346,0.597],[0.351,0.702],[0.354,0.728],[0.362,0.466],[0.366,0.453],[0.369,0.659],[0.374,0.623],[0.382,0.558],[0.385,0.53],[0.389,0.728],[0.392,0.649],[0.397,0.702],[0.405,0.846],[0.408,0.623],[0.412,0.675],[0.415,0.603],[0.418,0.721],[0.423,0.643],[0.428,0.669],[0.431,0.702],[0.435,0.584],[0.438,0.424],[0.441,0.728],[0.446,0.649],[0.451,0.542],[0.454,0.793],[0.458,0.681],[0.462,0.702],[0.466,0.754],[0.469,0.675],[0.477,0.715],[0.485,0.695],[0.492,0.747],[0.5,0.767],[0.5,0.993],[0.508,0.728],[0.515,0.522],[0.52,0.78],[0.523,0.702],[0.531,0.754],[0.535,0.82],[0.538,0.662],[0.542,0.537],[0.546,0.747],[0.551,0.78],[0.554,0.715],[0.558,0.682],[0.562,0.806],[0.566,0.636],[0.569,0.603],[0.574,0.767],[0.577,0.721],[0.582,0.793],[0.585,0.741],[0.589,0.826],[0.592,0.617],[0.597,0.702],[0.6,0.786],[0.608,0.617],[0.612,0.689],[0.615,0.767],[0.623,0.656],[0.628,0.649],[0.631,0.806],[0.638,0.819],[0.646,0.78],[0.654,0.76],[0.662,0.852],[0.669,0.819],[0.677,0.806],[0.685,0.705],[0.689,0.865],[0.692,0.839],[0.7,0.799],[0.705,0.832],[0.708,0.754],[0.735,0.734],[0.738,0.79],[0.751,0.806],[0.846,0.842],[0.957,0.77],[0.977,0.855],[0.982,0.904],[0.988,0.955],[0.988,0.904],[0.992,0.996],[0.56,0.76],[0.58,0.74],[0.6,0.75],[0.52,0.74],[0.62,0.78],[0.45,0.7],[0.48,0.73],[0.53,0.76],[0.57,0.78],[0.59,0.8],[0.61,0.8],[0.63,0.76],[0.65,0.8]];

const g17 = [[0.003,0.532],[0.003,0.363],[0.003,0.34],[0.003,0.235],[0.003,0.162],[0.003,0.143],[0.003,0.116],[0.003,0.002],[0.023,0.098],[0.04,0.162],[0.021,0.28],[0.035,0.299],[0.049,0.203],[0.051,0.212],[0.063,0.433],[0.065,0.349],[0.058,0.248],[0.072,0.321],[0.076,0.294],[0.081,0.271],[0.084,0.212],[0.085,0.258],[0.09,0.312],[0.095,0.239],[0.099,0.294],[0.106,0.405],[0.108,0.349],[0.113,0.271],[0.118,0.303],[0.12,0.363],[0.125,0.321],[0.129,0.247],[0.131,0.294],[0.136,0.349],[0.14,0.312],[0.145,0.276],[0.15,0.366],[0.154,0.326],[0.159,0.253],[0.164,0.29],[0.168,0.34],[0.173,0.285],[0.177,0.366],[0.18,0.262],[0.182,0.326],[0.187,0.303],[0.191,0.349],[0.195,0.28],[0.2,0.331],[0.205,0.363],[0.21,0.312],[0.214,0.344],[0.219,0.366],[0.225,0.235],[0.233,0.299],[0.235,0.449],[0.237,0.34],[0.242,0.363],[0.246,0.376],[0.251,0.28],[0.254,0.41],[0.257,0.458],[0.265,0.355],[0.288,0.429],[0.296,0.242],[0.303,0.32],[0.322,0.522],[0.315,0.404],[0.324,0.366],[0.329,0.34],[0.334,0.385],[0.338,0.358],[0.343,0.44],[0.347,0.404],[0.352,0.366],[0.355,0.463],[0.357,0.34],[0.361,0.385],[0.364,0.454],[0.366,0.352],[0.368,0.657],[0.37,0.32],[0.375,0.39],[0.38,0.366],[0.384,0.34],[0.389,0.49],[0.392,0.404],[0.395,0.358],[0.401,0.331],[0.404,0.385],[0.407,0.366],[0.412,0.399],[0.416,0.334],[0.421,0.361],[0.425,0.419],[0.43,0.39],[0.435,0.428],[0.444,0.469],[0.449,0.372],[0.453,0.419],[0.458,0.39],[0.465,0.428],[0.471,0.399],[0.48,0.413],[0.494,0.387],[0.503,0.415],[0.506,0.571],[0.516,0.413],[0.517,0.506],[0.52,0.494],[0.536,0.586],[0.542,0.358],[0.554,0.394],[0.612,0.538],[0.637,0.437],[0.743,0.732],[0.818,0.634],[0.884,0.566],[0.07,0.28],[0.1,0.3],[0.12,0.28],[0.14,0.3],[0.16,0.32],[0.18,0.31],[0.2,0.34],[0.22,0.33],[0.36,0.37],[0.38,0.38],[0.4,0.36],[0.08,0.3],[0.1,0.28],[0.12,0.33],[0.13,0.31],[0.15,0.3],[0.17,0.32],[0.19,0.33],[0.21,0.35],[0.23,0.34],[0.34,0.37],[0.35,0.35],[0.37,0.36],[0.39,0.37],[0.41,0.38],[0.43,0.4],[0.45,0.42],[0.47,0.41]];

const panels = [g1,g2,g3,g4,g5,g6,g7,g8,g9,g10,g11,g12,g13,g14,g15,g16,g17];

const el = document.getElementById('c');
const VW = el.clientWidth || window.innerWidth || 3415;
const VH = el.clientHeight || window.innerHeight || 4299;
const sx = VW / 3415, sy = VH / 4299;
const fs = sx;                       // text and marker scale follow the width
const chart = echarts.init(el, null, {renderer: 'svg', width: VW, height: VH});
const FONT = 'DejaVu Sans';
const grids = [], xAxes = [], yAxes = [], series = [], titles = [];
const W = 612 * sx, H = 614 * sy;
panels.forEach(function(d, i){
  const col = i % 4, row = Math.floor(i / 4);
  const left = (187 + col * 852.8) * sx, top = (103 + row * 855.5) * sy;
  grids.push({left: left, top: top, width: W, height: H, show: true, borderColor: '#000', borderWidth: 3.5 * fs, backgroundColor: 'rgba(0,0,0,0)', containLabel: false});
  const lab = {color: '#000', fontSize: 41.7 * fs, fontFamily: FONT, formatter: function(v){ return v.toFixed(1); }};
  const common = {type: 'value', min: 0, max: 1, interval: 0.2, gridIndex: i, z: 3,
    splitLine: {show: false},
    axisLine: {show: true, onZero: false, lineStyle: {color: '#000', width: 3.5 * fs}},
    axisTick: {show: true, inside: false, length: 14.6 * fs, lineStyle: {color: '#000', width: 3.5 * fs}},
    nameLocation: 'middle',
    nameTextStyle: {color: '#000', fontSize: 47.5 * fs, fontFamily: FONT}};
  xAxes.push(Object.assign({}, common, {position: 'bottom', name: xName, nameGap: 80 * sy, axisLabel: Object.assign({}, lab, {margin: 26 * sy})}));
  yAxes.push(Object.assign({}, common, {position: 'left', name: yName, nameGap: 107 * sx, axisLabel: Object.assign({}, lab, {margin: 30 * sx})}));
  series.push({type: 'scatter', xAxisIndex: i, yAxisIndex: i, data: d, symbol: 'circle', symbolSize: 18 * fs, itemStyle: {color: '#1f77b4', opacity: 1}, silent: true, animation: false, z: 2});
  titles.push({text: 'Goal:' + goals[i] + ', Corr= ' + corrs[i], left: left + W / 2, top: top - 72 * fs, textAlign: 'center', padding: 0,
    textStyle: {fontSize: 59 * fs, fontWeight: 'normal', color: '#000', fontFamily: FONT}});
});
chart.setOption({animation: false, backgroundColor: '#fff', title: titles, grid: grids, xAxis: xAxes, yAxis: yAxes, series: series});
</script>
</body></html>
